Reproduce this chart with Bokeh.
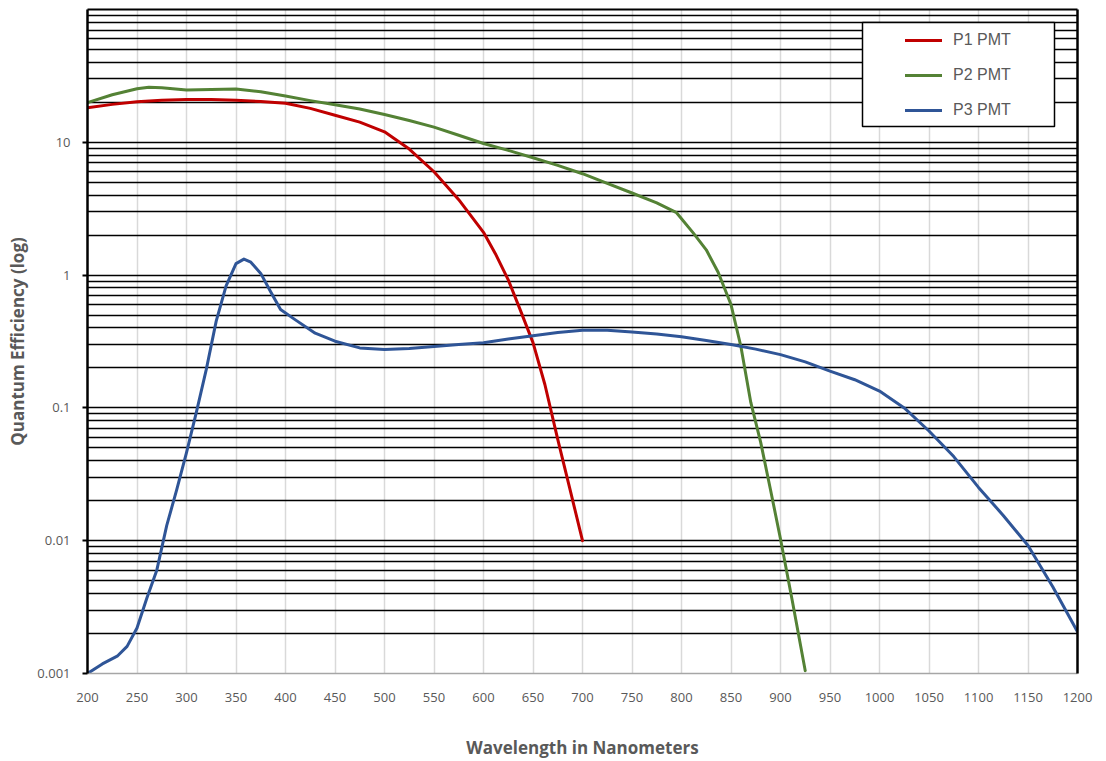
from bokeh.plotting import figure
from bokeh.models import (FixedTicker, CustomJSTickFormatter, LogAxis, LinearAxis,
                          Legend, LegendItem, BoxAnnotation, Range1d)
from bokeh.embed import file_html
from bokeh.resources import INLINE

# ---------------- data ----------------
P1_WL = [200, 225, 250, 275, 300, 325, 350, 375, 400, 425, 450, 475, 500, 525, 550,
         575, 600, 612, 625, 637, 650, 662, 675, 687, 700]
P1_QE = [18.2, 19.3, 20.2, 20.7, 21.0, 21.0, 20.7, 20.3, 19.7, 18.0, 16.0, 14.2, 12.0, 8.9, 6.0,
         3.7, 2.1, 1.45, 0.92, 0.55, 0.31, 0.15, 0.058, 0.025, 0.01]

P2_WL = [200, 225, 250, 262, 275, 300, 325, 350, 375, 400, 425, 450, 475, 500, 525, 550,
         575, 600, 625, 650, 675, 700, 725, 750, 775, 795, 812, 825, 837, 850, 860, 870,
         880, 890, 900, 912, 925]
P2_QE = [19.9, 22.8, 25.3, 26.0, 25.8, 24.8, 25.0, 25.2, 24.0, 22.3, 20.6, 19.2, 17.8, 16.2,
         14.6, 13.0, 11.3, 9.8, 8.7, 7.65, 6.7, 5.8, 4.9, 4.15, 3.5, 2.95, 2.07, 1.55, 1.05,
         0.6, 0.29, 0.11, 0.055, 0.024, 0.0103, 0.0035, 0.00105]

P3_WL = [200, 215, 230, 240, 250, 260, 270, 280, 290, 300, 310, 320, 330, 340, 350, 358,
         365, 375, 385, 395, 410, 430, 450, 475, 500, 525, 550, 575, 600, 625, 650, 675,
         700, 725, 750, 775, 800, 825, 850, 875, 900, 925, 950, 975, 1000, 1025, 1050,
         1075, 1100, 1125, 1150, 1175, 1200]
P3_QE = [0.001, 0.00118, 0.00135, 0.0016, 0.0022, 0.0037, 0.006, 0.013, 0.024, 0.046, 0.093,
         0.195, 0.45, 0.83, 1.22, 1.32, 1.25, 1.03, 0.75, 0.55, 0.46, 0.365, 0.318, 0.283,
         0.275, 0.28, 0.29, 0.30, 0.31, 0.33, 0.35, 0.37, 0.384, 0.385, 0.373, 0.36, 0.343,
         0.322, 0.30, 0.277, 0.252, 0.222, 0.189, 0.163, 0.134, 0.1, 0.067, 0.043, 0.0252,
         0.0155, 0.0092, 0.0045, 0.00206]

SERIES_NAMES = ["P1 PMT", "P2 PMT", "P3 PMT"]
SERIES_COLORS = ["#C00000", "#548235", "#2F5597"]

X_TICKS = list(range(200, 1201, 50))
Y_MAJOR = [0.001, 0.01, 0.1, 1, 10]
Y_GRID_MAJOR = [0.001, 0.01, 0.1, 1, 10, 100]
Y_MINOR = [m * d for d in [0.001, 0.01, 0.1, 1, 10] for m in range(2, 10)]

X_TITLE = "Wavelength in Nanometers"
Y_TITLE = "Quantum Efficiency (log)"

LABEL_GRAY = "#595959"
FONT = "Open Sans"

# ---------------- figure ----------------
p = figure(width=1098, height=761,
           x_range=Range1d(200, 1200), y_range=Range1d(0.001, 100),
           y_axis_type="log", output_backend="svg", toolbar_location=None,
           min_border_left=87, min_border_right=21, min_border_top=9, min_border_bottom=86)
p.outline_line_color = None
p.background_fill_color = "white"
p.border_fill_color = "white"

# x axis
xa = p.xaxis[0]
xa.ticker = FixedTicker(ticks=X_TICKS)
xa.major_tick_line_color = None
xa.minor_tick_line_color = None
xa.axis_line_color = "#A6A6A6"
xa.axis_line_width = 1.5
xa.major_label_text_font = FONT
xa.major_label_text_font_size = "13px"
xa.major_label_text_color = LABEL_GRAY
xa.major_label_standoff = 13
xa.axis_label = X_TITLE
xa.axis_label_text_font = FONT
xa.axis_label_text_font_size = "17px"
xa.axis_label_text_font_style = "bold"
xa.axis_label_text_color = LABEL_GRAY
xa.axis_label_standoff = 31

# y axis
ya = p.yaxis[0]
ya.ticker = FixedTicker(ticks=Y_MAJOR, minor_ticks=[])
ya.formatter = CustomJSTickFormatter(code="return tick.toString();")
ya.major_tick_out = 5
ya.major_tick_in = 0
ya.major_tick_line_color = "black"
ya.major_tick_line_width = 2
ya.minor_tick_line_color = None
ya.axis_line_color = "black"
ya.axis_line_width = 2.5
ya.major_label_text_font = FONT
ya.major_label_text_font_size = "13px"
ya.major_label_text_color = LABEL_GRAY
ya.major_label_standoff = 12
ya.axis_label = Y_TITLE
ya.axis_label_text_font = FONT
ya.axis_label_text_font_size = "17px"
ya.axis_label_text_font_style = "bold"
ya.axis_label_text_color = LABEL_GRAY
ya.axis_label_standoff = 5

# border axes (right, top)
ra = LogAxis(ticker=FixedTicker(ticks=[]), major_label_text_font_size="0px",
             axis_line_color="black", axis_line_width=2.5,
             major_tick_line_color=None, minor_tick_line_color=None)
p.add_layout(ra, "right")
ta = LinearAxis(ticker=FixedTicker(ticks=[]), major_label_text_font_size="0px",
                axis_line_color="black", axis_line_width=2,
                major_tick_line_color=None, minor_tick_line_color=None)
p.add_layout(ta, "above")

# grids
p.xgrid.ticker = FixedTicker(ticks=X_TICKS)
p.xgrid.grid_line_color = "#D9D9D9"
p.xgrid.grid_line_width = 1.5
p.ygrid.ticker = FixedTicker(ticks=Y_GRID_MAJOR, minor_ticks=Y_MINOR)
p.ygrid.grid_line_color = "black"
p.ygrid.grid_line_width = 1.5
p.ygrid.minor_grid_line_color = "black"
p.ygrid.minor_grid_line_width = 1.5

# series
renderers = []
for wl, qe, c in zip([P1_WL, P2_WL, P3_WL], [P1_QE, P2_QE, P3_QE], SERIES_COLORS):
    r = p.line(wl, qe, line_color=c, line_width=3, line_join="round", line_cap="round")
    renderers.append(r)

# legend box
box = BoxAnnotation(left=775, right=967, top=651, bottom=547,
                    left_units="screen", right_units="screen",
                    top_units="screen", bottom_units="screen",
                    fill_color="white", fill_alpha=1.0,
                    line_color="black", line_width=1.5, line_alpha=1.0)
p.add_layout(box)

legend = Legend(items=[LegendItem(label=n, renderers=[r]) for n, r in zip(SERIES_NAMES, renderers)],
                location=(818, 553), padding=0, margin=0,
                background_fill_alpha=0, border_line_color=None,
                glyph_width=37, glyph_height=20, label_height=20, spacing=15,
                label_standoff=11, label_text_font="Liberation Sans",
                label_text_font_size="16px", label_text_color=LABEL_GRAY)
p.add_layout(legend)

open("out.html", "w").write(file_html(p, INLINE))
